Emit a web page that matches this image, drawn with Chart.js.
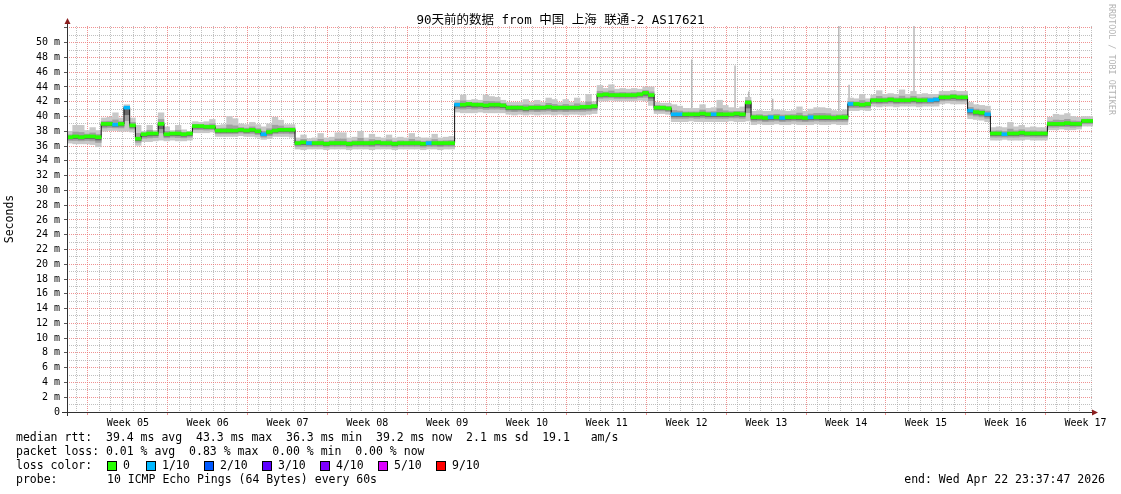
<!DOCTYPE html>
<html>
<head>
<meta charset="utf-8">
<script src="https://cdn.jsdelivr.net/npm/chart.js@4.4.1/dist/chart.umd.min.js"></script>
<style>
  html, body { margin: 0; padding: 0; background: #fff; }
  canvas { display: block; }
</style>
</head>
<body>
<canvas id="myChart" width="1121" height="494"></canvas>
<script>
// 90 days of data, one bucket = half a day (values in ms)
const bucketDays = 0.5
const median = [
  37.2, 37.3, 37.2, 37.3, 37.3, 37.2,
  39.0, 39.0, 38.9, 39.0, 41.2, 38.8, 37.0,
  37.6, 37.7, 37.7, 39.0, 37.6, 37.7, 37.7, 37.6, 37.7,
  38.7, 38.7, 38.6, 38.6,
  38.1, 38.1, 38.1, 38.1, 38.2, 38.1, 38.2, 38.0, 37.6, 37.9, 38.1, 38.2, 38.2, 38.2,
  36.4, 36.5, 36.4, 36.4, 36.4, 36.3, 36.4, 36.4, 36.4, 36.3, 36.4, 36.4, 36.4, 36.4,
  36.5, 36.4, 36.4, 36.3, 36.4, 36.4, 36.4, 36.4, 36.3, 36.4, 36.4, 36.4, 36.4, 36.4,
  41.6, 41.6, 41.7, 41.6, 41.6, 41.5, 41.6, 41.6, 41.5,
  41.2, 41.2, 41.2, 41.1, 41.2, 41.2, 41.2, 41.3, 41.2, 41.2, 41.2, 41.2, 41.2, 41.3, 41.3, 41.4,
  42.9, 43.0, 42.9, 42.9, 42.9, 42.9, 42.9, 43.0, 43.2, 42.9,
  41.2, 41.2, 41.1,
  40.3, 40.3, 40.3, 40.3, 40.3, 40.4, 40.3, 40.3, 40.3, 40.3, 40.3, 40.4, 40.3, 41.9,
  39.9, 39.9, 39.8, 39.9, 39.9, 39.8, 39.9, 39.9, 39.9, 39.8, 39.9, 39.9, 39.9, 39.9, 39.8, 39.9, 39.9,
  41.7, 41.7, 41.6, 41.7,
  42.2, 42.2, 42.2, 42.3, 42.2, 42.2, 42.2, 42.3, 42.2, 42.2, 42.2, 42.3,
  42.6, 42.6, 42.7, 42.6, 42.6,
  40.8, 40.6, 40.5, 40.3,
  37.7, 37.7, 37.6, 37.7, 37.7, 37.8, 37.7, 37.7, 37.7, 37.7,
  39.0, 39.0, 39.0, 39.1, 39.0, 39.0,
  39.4, 39.4
]
const smokeHigh = [
  38.0, 38.8, 38.8, 38.1, 38.5, 38.1,
  39.8, 39.9, 40.5, 39.8, 41.6, 39.8, 38.8,
  38.0, 38.8, 38.1, 40.5, 38.6, 38.1, 38.8, 38.2, 38.0,
  39.3, 39.2, 39.3, 39.6,
  38.8, 38.9, 40.0, 39.7, 39.0, 38.9, 39.2, 38.9, 38.6, 39.0, 39.9, 39.5, 38.9, 38.9,
  37.1, 37.5, 37.0, 37.1, 37.7, 37.1, 37.2, 37.8, 37.8, 37.1, 37.2, 38.0, 37.1, 37.6,
  37.2, 37.1, 37.5, 37.1, 37.2, 37.1, 37.7, 37.2, 37.1, 37.1, 37.6, 37.1, 37.2, 37.3,
  42.2, 42.9, 42.2, 42.3, 42.2, 42.9, 42.7, 42.6, 42.2,
  41.9, 41.9, 41.9, 42.3, 41.9, 42.2, 41.9, 42.5, 42.3, 41.9, 42.3, 41.9, 42.5, 41.9, 43.0, 42.0,
  44.2, 43.8, 44.3, 43.7, 43.8, 43.7, 43.8, 43.7, 44.0, 44.0,
  41.9, 41.8, 41.8,
  41.6, 41.4, 41.1, 41.1, 41.1, 41.6, 41.1, 41.2, 42.2, 41.5, 41.2, 41.1, 41.3, 42.6,
  40.7, 40.8, 40.7, 40.7, 40.9, 40.8, 40.7, 40.8, 41.3, 40.7, 41.0, 41.2, 41.2, 41.1, 40.8, 40.7, 40.9,
  42.5, 42.4, 43.0, 42.4,
  42.9, 43.5, 43.0, 43.1, 43.0, 43.6, 43.0, 43.4, 43.0, 43.1, 43.0, 43.0,
  43.4, 43.4, 43.5, 43.4, 43.4,
  41.9, 41.6, 41.5, 41.4,
  38.5, 38.6, 38.5, 39.2, 38.6, 38.8, 38.5, 38.6, 38.5, 38.5,
  39.9, 40.3, 40.2, 40.4, 40.0, 39.9,
  40.0, 40.0
]
const smokeLow = [
  36.4, 36.3, 36.3, 36.3, 36.2, 35.9,
  38.0, 38.1, 38.1, 38.0, 38.0, 37.9, 36.1,
  36.6, 36.6, 36.7, 36.8, 36.7, 36.8, 36.7, 36.7, 36.8,
  37.8, 37.8, 37.8, 37.9,
  37.3, 37.3, 37.3, 37.3, 37.4, 37.3, 37.3, 37.2, 36.9, 37.0, 37.3, 37.3, 37.3, 37.2,
  35.6, 35.5, 35.6, 35.6, 35.6, 35.5, 35.6, 35.6, 35.6, 35.5, 35.6, 35.6, 35.6, 35.5,
  35.6, 35.6, 35.6, 35.5, 35.6, 35.6, 35.6, 35.6, 35.5, 35.6, 35.6, 35.5, 35.6, 35.6,
  40.6, 40.5, 40.5, 40.5, 40.6, 40.5, 40.5, 40.5, 40.5,
  40.3, 40.2, 40.3, 40.2, 40.3, 40.2, 40.3, 40.3, 40.2, 40.3, 40.2, 40.3, 40.3, 40.2, 40.3, 40.4,
  42.1, 42.1, 42.2, 42.1, 42.1, 42.1, 42.1, 42.2, 42.1, 41.5,
  40.4, 40.4, 40.3,
  39.3, 39.3, 39.3, 39.4, 39.3, 39.3, 39.3, 39.3, 39.3, 39.3, 39.4, 39.3, 39.3, 39.4,
  38.9, 39.0, 38.9, 38.9, 39.0, 38.9, 38.9, 39.0, 38.9, 38.9, 38.9, 39.0, 38.9, 38.9, 39.0, 38.9, 38.9,
  40.8, 40.8, 40.9, 40.8,
  41.4, 41.3, 41.4, 41.4, 41.3, 41.4, 41.4, 41.4, 41.3, 41.4, 41.4, 41.4,
  41.7, 41.8, 41.7, 41.7, 41.7,
  39.7, 39.6, 39.5, 39.3,
  36.8, 36.8, 36.9, 36.8, 36.8, 36.8, 36.9, 36.8, 36.8, 36.8,
  38.2, 38.2, 38.3, 38.2, 38.2, 38.3,
  38.7, 38.7
]
// buckets where 1/10 pings were lost
const lossBuckets = [8, 10, 34, 42, 63, 68, 106, 107, 113, 123, 125, 130, 137, 151, 152, 158, 161, 164]
// single tall outliers (day, top in ms)
const spikeDays = [54.8, 58.6, 59.8, 61.9, 67.7, 68.6, 74.3]
const spikeTops = [47.7, 46.9, 43.4, 42.4, 52.5, 44.3, 52.5]

const weekLabels = ["Week 05", "Week 06", "Week 07", "Week 08", "Week 09", "Week 10", "Week 11",
  "Week 12", "Week 13", "Week 14", "Week 15", "Week 16", "Week 17"]
const firstWeekStart = 1.84   // day offset of the first week boundary
const totalDays = 90
const yTop = 52.25

const lossNames = ["0", "1/10", "2/10", "3/10", "4/10", "5/10", "9/10"]
const lossColors = ["#26ff00", "#00b8ff", "#0059ff", "#5e00ff", "#7e00ff", "#dd00ff", "#ff0000"]

const statLines = [
  "median rtt:  39.4 ms avg  43.3 ms max  36.3 ms min  39.2 ms now  2.1 ms sd  19.1   am/s",
  "packet loss: 0.01 % avg  0.83 % max  0.00 % min  0.00 % now"
]
const probeText = "10 ICMP Echo Pings (64 Bytes) every 60s"
const endText = "end: Wed Apr 22 23:37:47 2026"
const titleText = "90天前的数据 from 中国 上海 联通-2 AS17621"

const MONO = '"DejaVu Sans Mono", "Noto Sans CJK SC", monospace'

// --- build datasets
const centers = median.map((v, i) => (i + 0.5) * bucketDays)
const outerSmoke = median.map((v, i) => ({ x: centers[i], y: [smokeLow[i], smokeHigh[i]] }))
const midSmoke = median.map((v, i) => ({ x: centers[i], y: [v - 0.55 * (v - smokeLow[i]), v + 0.4 * (smokeHigh[i] - v)] }))
const innerSmoke = median.map((v, i) => ({ x: centers[i], y: [v - 0.3 * (v - smokeLow[i]), v + 0.1 * (smokeHigh[i] - v)] }))
const medianBand = median.map((v, i) => ({ x: centers[i], y: [v - 0.2, v + 0.2] }))
const bandColors = median.map((v, i) => lossBuckets.includes(i) ? lossColors[1] : lossColors[0])
const medianLine = median.map((v, i) => ({ x: centers[i], y: v }))

const spikePoints = []
spikeDays.forEach((d, k) => {
  const b = Math.min(median.length - 1, Math.floor(d / bucketDays))
  spikePoints.push({ x: d, y: median[b] }, { x: d, y: spikeTops[k] }, { x: d, y: null })
})

// x ticks every half day from the week boundary; kind decided from the value itself
const xTickValues = []
for (let j = -3; firstWeekStart + j * 0.5 <= totalDays; j++) {
  const d = firstWeekStart + j * 0.5
  if (d >= 0) xTickValues.push(d)
}
const halfStep = v => Math.round((v - firstWeekStart) / 0.5)
const xKind = v => {
  const m = ((halfStep(v) % 14) + 14) % 14
  return m === 0 ? "major" : (m % 2 === 0 ? "minor" : "none")
}
const xLabel = v => {
  const j = halfStep(v)
  return (((j % 14) + 14) % 14 === 7) ? (weekLabels[(j - 7) / 14] || "") : ""
}
const yTicks = []
for (let v = 0; v <= 52; v++) yTicks.push(v)

const MAJOR = "rgba(235, 110, 110, 0.75)"
const MINOR = "rgba(165, 165, 165, 0.7)"
const CLEAR = "rgba(0,0,0,0)"

const decorations = {
  id: "decorations",
  beforeDraw(chart) {
    const ctx = chart.ctx
    ctx.save()
    ctx.fillStyle = "#fff"
    ctx.fillRect(0, 0, chart.width, chart.height)
    ctx.restore()
  },
  afterDraw(chart) {
    const ctx = chart.ctx
    const { left, right, top, bottom } = chart.chartArea
    ctx.save()
    // axes with arrows
    ctx.strokeStyle = "#303030"
    ctx.lineWidth = 1
    ctx.beginPath()
    ctx.moveTo(left + 0.5, bottom + 4)
    ctx.lineTo(left + 0.5, top - 3)
    ctx.moveTo(left - 5, bottom + 0.5)
    ctx.lineTo(right + 1, bottom + 0.5)
    ctx.stroke()
    ctx.fillStyle = "#8b1e1e"
    ctx.beginPath()
    ctx.moveTo(left + 0.5, top - 8)
    ctx.lineTo(left - 2.5, top - 2)
    ctx.lineTo(left + 3.5, top - 2)
    ctx.closePath()
    ctx.fill()
    ctx.beginPath()
    ctx.moveTo(right + 5, bottom + 0.5)
    ctx.lineTo(right - 1, bottom - 2.5)
    ctx.lineTo(right - 1, bottom + 3.5)
    ctx.closePath()
    ctx.fill()

    // title
    ctx.fillStyle = "#000"
    ctx.textBaseline = "middle"
    ctx.textAlign = "center"
    ctx.font = "12.5px " + MONO
    ctx.fillText(titleText, chart.width / 2, 21)

    // vertical axis title
    ctx.save()
    ctx.translate(10, 219)
    ctx.rotate(-Math.PI / 2)
    ctx.font = "11.5px " + MONO
    ctx.fillText("Seconds", 0, 0)
    ctx.restore()

    // rrdtool watermark
    ctx.save()
    ctx.translate(1111, 4)
    ctx.rotate(Math.PI / 2)
    ctx.textAlign = "left"
    ctx.fillStyle = "#b4b4b4"
    ctx.font = "8.4px " + MONO
    ctx.fillText("RRDTOOL / TOBI OETIKER", 0, 0)
    ctx.restore()

    // legend block
    ctx.textAlign = "left"
    ctx.font = "11.5px " + MONO
    ctx.fillStyle = "#000"
    ctx.fillText(statLines[0], 16, 438)
    ctx.fillText(statLines[1], 16, 452)
    ctx.fillText("loss color:", 16, 466)
    const boxX = [107, 146, 204, 262, 320, 378, 436]
    lossNames.forEach((n, i) => {
      ctx.fillStyle = lossColors[i]
      ctx.fillRect(boxX[i] + 0.5, 461.5, 9, 9)
      ctx.strokeStyle = "#000"
      ctx.strokeRect(boxX[i] + 0.5, 461.5, 9, 9)
      ctx.fillStyle = "#000"
      ctx.fillText(n, boxX[i] + 16, 466)
    })
    ctx.fillText("probe:", 16, 480)
    ctx.fillText(probeText, 107, 480)
    ctx.textAlign = "right"
    ctx.fillText(endText, 1105, 480)
    ctx.restore()
  }
}

const barBase = { type: "bar", grouped: false, barPercentage: 1, categoryPercentage: 1, borderWidth: 0 }

new Chart(document.getElementById("myChart"), {
  type: "bar",
  data: {
    datasets: [
      { type: "line", data: spikePoints, borderColor: "rgb(185,185,185)", borderWidth: 1.5,
        pointRadius: 0, spanGaps: false, order: 10 },
      { ...barBase, data: outerSmoke, backgroundColor: "rgb(200,200,200)", order: 9 },
      { ...barBase, data: midSmoke, backgroundColor: "rgb(160,160,160)", order: 8 },
      { ...barBase, data: innerSmoke, backgroundColor: "rgb(105,105,105)", order: 7 },
      { type: "line", data: medianLine, borderColor: "#101010", borderWidth: 1, stepped: "middle",
        pointRadius: 0, order: 2 },
      { ...barBase, data: medianBand, backgroundColor: bandColors, order: 1 }
    ]
  },
  options: {
    responsive: false,
    animation: false,
    events: [],
    layout: { padding: { left: 0, top: 26, right: 28, bottom: 62 } },
    plugins: { legend: { display: false }, title: { display: false }, tooltip: { enabled: false } },
    scales: {
      x: {
        type: "linear",
        min: 0,
        max: totalDays,
        offset: false,
        afterBuildTicks: s => { s.ticks = xTickValues.map(v => ({ value: v })) },
        afterFit: s => { s.height = 20 },
        grid: {
          offset: false,
          color: c => {
            const k = c.tick ? xKind(c.tick.value) : "none"
            return k === "major" ? MAJOR : (k === "minor" ? MINOR : CLEAR)
          },
          tickColor: c => c.tick && xKind(c.tick.value) === "major" ? MAJOR : CLEAR,
          tickLength: 3,
          lineWidth: 1
        },
        border: { display: false, dash: [1, 1] },
        ticks: {
          autoSkip: false,
          maxRotation: 0,
          padding: 2,
          color: "#000",
          font: { family: MONO, size: 10 },
          callback: v => xLabel(v)
        }
      },
      y: {
        type: "linear",
        min: 0,
        max: yTop,
        afterBuildTicks: s => { s.ticks = yTicks.map(v => ({ value: v })) },
        afterFit: s => { s.width = 67 },
        grid: {
          offset: false,
          color: c => c.tick && c.tick.value % 2 === 0 ? MAJOR : MINOR,
          tickColor: c => c.tick && c.tick.value % 2 === 0 ? "#555" : CLEAR,
          tickLength: 3,
          lineWidth: 1
        },
        border: { display: false, dash: [1, 1] },
        ticks: {
          autoSkip: false,
          padding: 4,
          color: "#000",
          font: { family: MONO, size: 10 },
          callback: v => (v % 2 === 0 && v <= 50) ? (v === 0 ? "0" : v + " m") : ""
        }
      }
    }
  },
  plugins: [decorations]
})
</script>
</body>
</html>
